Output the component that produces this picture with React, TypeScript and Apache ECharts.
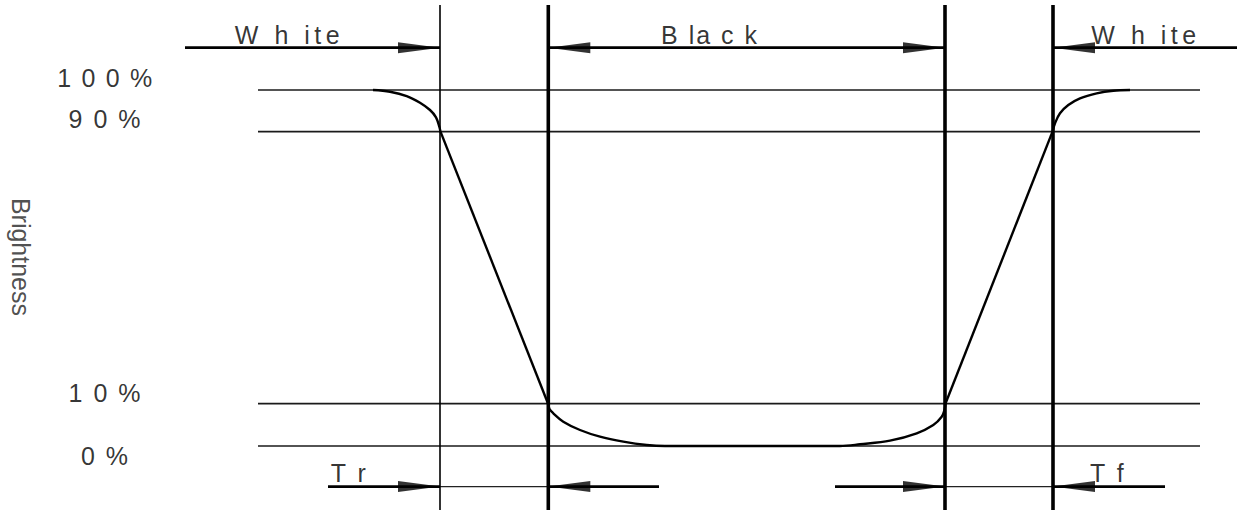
import React, { useEffect, useRef } from "react";
import * as echarts from "echarts";

// ---- Diagram data (x: time, arbitrary units; y: brightness-axis units) ----
const levelLabels = ["1 0 0 %", "9 0 %", "1 0 %", "0 %"];
const levelValues = [100, 88.3, 11.9, 0];
const levelSpan = [25.8, 120.0];

const boundaryTimes = [44.0, 54.83, 94.5, 105.3];
const boundarySpan = [-18, 123.9];

const fallCorner = [
  [37.3, 100], [39.0, 99.52], [40.67, 98.31], [42.0, 96.43], [43.0, 94.38],
  [43.6, 92.33], [43.93, 89.69], [44.05, 88.29],
];
const fallRamp = [[44.05, 88.29], [54.8, 11.94]];
const blackFloor = [
  [54.8, 11.94], [54.95, 10.39], [55.33, 9.19], [56.33, 6.83], [58.0, 4.49],
  [60.0, 2.61], [62.33, 1.21], [64.67, 0.28], [66.5, 0], [84.0, 0],
  [86.0, 0.48], [89.0, 1.49], [91.67, 3.57], [93.33, 5.9], [94.17, 8.23],
  [94.45, 10.11], [94.55, 11.94],
];
const riseRamp = [[94.55, 11.94], [105.25, 88.29]];
const riseCorner = [
  [105.25, 88.29], [105.5, 90.65], [106.0, 93.46], [106.83, 95.79],
  [108.0, 97.67], [109.67, 99.07], [111.33, 99.8], [113.0, 100],
];

const phaseRow = 111.9;
const timingRow = -11.4;
const phaseShafts = [[18.5, 44.0], [54.83, 94.5], [105.3, 123.7]];
const timingShafts = [[32.8, 44.0], [54.83, 65.9], [83.5, 94.5], [105.3, 116.5]];
const timingGuides = [[44.0, 54.83], [94.5, 105.3]];
// arrow tips: [time, direction] (1 = pointing right, -1 = pointing left)
const arrowTips = [[44.0, 1], [54.83, -1], [94.5, 1], [105.3, -1]];

const phaseLabels = ["W h ite", "B la c k", "W h ite"];
const phaseLabelTimes = [28.95, 71.0, 114.6];
const phaseLabelRow = 115.4;
const timingLabels = ["T r", "T f"];
const timingLabelTimes = [34.95, 110.8];
const timingLabelRow = -7.5;
const levelLabelTime = 10.55;
const levelLabelRows = [103.5, 91.9, 14.9, -2.8];
const axisTitle = "Brightness";
const axisTitlePos = [2.14, 53.1];

const letterSpacing: Record<string, number> = {
  "W h ite": 4.5,
  "B la c k": 2,
  "1 0 0 %": 1.7,
  "9 0 %": 2,
  "1 0 %": 2,
  "0 %": 2,
  "T r": 2.5,
  "T f": 2.5,
};

const FONT = "'Liberation Sans', Arial, sans-serif";

function seg(data: number[][], width: number, color: string, smooth: number | boolean = false, z = 2) {
  return {
    type: "line",
    data,
    symbol: "none",
    showSymbol: false,
    silent: true,
    smooth,
    clip: false,
    z,
    lineStyle: { width, color, cap: "butt" },
    animation: false,
  };
}

export default function App() {
  const ref = useRef<HTMLDivElement>(null);

  useEffect(() => {
    document.body.style.margin = "0";
    const el = ref.current!;
    const chart = echarts.init(el, undefined, { renderer: "svg" });

    const series: any[] = [];
    levelValues.forEach((v) => series.push(seg([[levelSpan[0], v], [levelSpan[1], v]], 1.6, "#1a1a1a")));
    boundaryTimes.forEach((t, i) =>
      series.push(seg([[t, boundarySpan[0]], [t, boundarySpan[1]]], i === 0 ? 1.6 : 3.6, "#000", false, 3))
    );
    series.push(seg(fallCorner, 2.4, "#000", 0.35, 4));
    series.push(seg(fallRamp, 2.4, "#000", false, 4));
    series.push(seg(blackFloor, 2.4, "#000", 0.35, 4));
    series.push(seg(riseRamp, 2.4, "#000", false, 4));
    series.push(seg(riseCorner, 2.4, "#000", 0.35, 4));
    phaseShafts.forEach((s) => series.push(seg([[s[0], phaseRow], [s[1], phaseRow]], 2.8, "#000")));
    timingShafts.forEach((s) => series.push(seg([[s[0], timingRow], [s[1], timingRow]], 2.8, "#000")));
    timingGuides.forEach((s) => series.push(seg([[s[0], timingRow], [s[1], timingRow]], 1.2, "#222")));

    const tips: any[] = [];
    [phaseRow, timingRow].forEach((row) =>
      arrowTips.forEach(([t, dir]) =>
        tips.push({
          value: [t, row],
          symbolRotate: dir > 0 ? -90 : 90,
          symbolOffset: [dir > 0 ? -21 : 21, 0],
        })
      )
    );
    series.push({
      type: "scatter",
      data: tips,
      symbol: "triangle",
      symbolSize: [11, 42],
      silent: true,
      z: 5,
      itemStyle: { color: "#000" },
      animation: false,
    });

    const labels: any[] = [];
    phaseLabels.forEach((s, i) => labels.push({ value: [phaseLabelTimes[i], phaseLabelRow], label: { formatter: s } }));
    timingLabels.forEach((s, i) => labels.push({ value: [timingLabelTimes[i], timingLabelRow], label: { formatter: s } }));
    levelLabels.forEach((s, i) => labels.push({ value: [levelLabelTime, levelLabelRows[i]], label: { formatter: s } }));
    labels.push({ value: axisTitlePos, label: { formatter: axisTitle, rotate: -90, color: "#222" } });

    series.push({
      type: "scatter",
      data: labels,
      symbolSize: 0,
      silent: true,
      z: 10,
      itemStyle: { color: "rgba(0,0,0,0)" },
      label: {
        show: true,
        position: "inside",
        color: "#000",
        fontSize: 25,
        fontFamily: FONT,
        align: "center",
        verticalAlign: "middle",
      },
      animation: false,
    });

    chart.setOption({
      animation: false,
      grid: { left: 0, right: 0, top: 0, bottom: 0, containLabel: false },
      xAxis: { type: "value", min: 0, max: 123.9, show: false },
      yAxis: { type: "value", min: -17.98, max: 125.28, show: false },
      series,
    });

    const applySpacing = () => {
      el.querySelectorAll("text").forEach((t) => {
        const s = letterSpacing[(t.textContent || "").trim()];
        if (s) t.setAttribute("letter-spacing", String(s));
      });
    };
    applySpacing();
    chart.on("finished", applySpacing);

    return () => {
      chart.dispose();
    };
  }, []);

  return <div ref={ref} style={{ width: 1239, height: 510 }} />;
}
